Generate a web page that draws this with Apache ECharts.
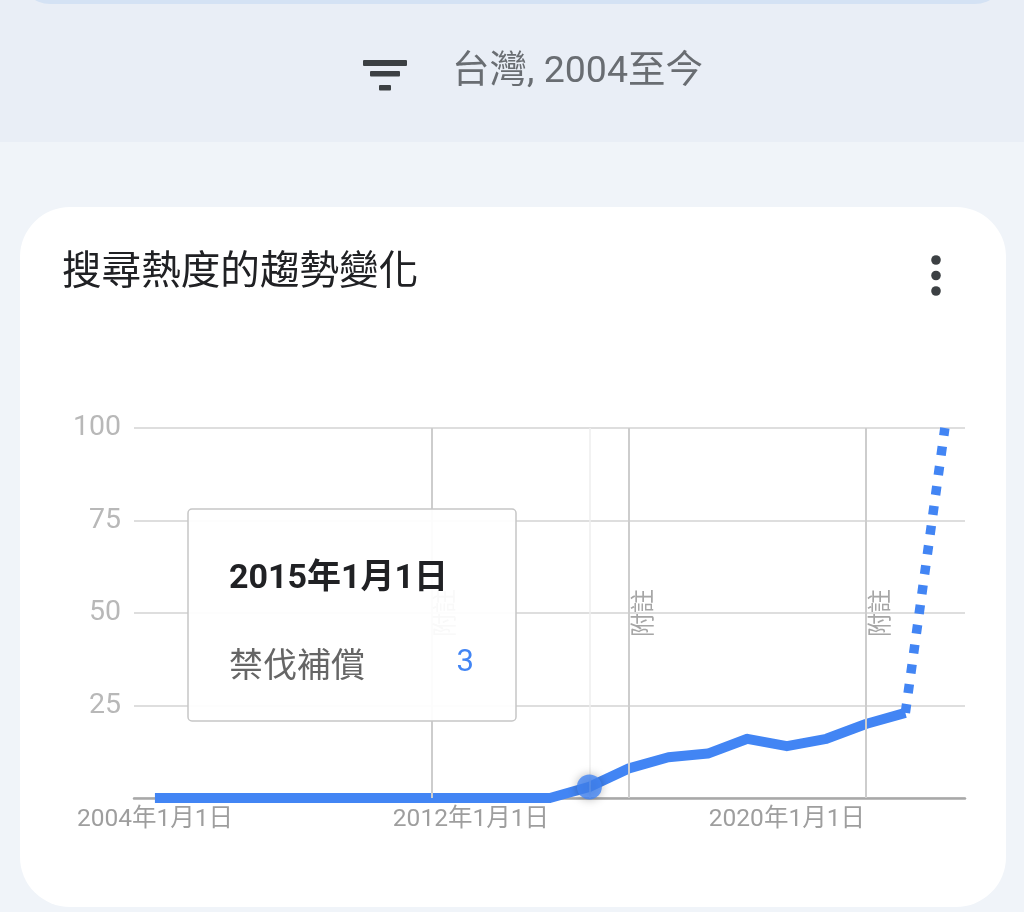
<!DOCTYPE html>
<html><head><meta charset="utf-8">
<script src="https://cdn.jsdelivr.net/npm/echarts@6/dist/echarts.min.js"></script>
<style>
html,body{margin:0;padding:0;width:1024px;height:912px;overflow:hidden;background:#f0f4f9;}
#top{position:absolute;left:0;top:0;width:1024px;height:142px;background:#e9eef6;overflow:hidden;}
#sliver{position:absolute;left:20px;top:-40px;width:985px;height:44px;background:#d4e2f4;border-radius:0 0 30px 30px;}
#card{position:absolute;left:20px;top:207px;width:986px;height:700px;background:#ffffff;border-radius:50px;}
#chart{position:absolute;left:0;top:0;width:1024px;height:912px;}
</style></head><body>
<div id="top"><div id="sliver"></div></div>
<div id="card"></div>
<div id="chart"></div>
<script>
// ---- data ----
const years = [2004,2005,2006,2007,2008,2009,2010,2011,2012,2013,2014,2015,2016,2017,2018,2019,2020,2021,2022,2023,2024];
const interest = [0,0,0,0,0,0,0,0,0,0,0,3,8,11,12,16,14,16,20,23,100];
const seriesName = '禁伐補償';
const yTicks = [25,50,75,100];
const xTickYears = [2004,2012,2020];
const noteYears = [2011,2016,2022];
const hoverYear = 2015;
const partialFromYear = 2023;
const headerText = '台灣, 2004至今';
const titleText = '搜尋熱度的趨勢變化';
const noteLabel = '附註';
const dateSuffix = '年1月1日';

const FONT = "Roboto, 'Noto Sans CJK TC', 'Noto Sans', sans-serif";
const BLUE = '#4285f4';

const pts = years.map((y,i)=>[y, interest[i]]);
const solidPts = pts.filter(p=>p[0] <= partialFromYear);
const partialPts = pts.filter(p=>p[0] >= partialFromYear);
const hoverIdx = years.indexOf(hoverYear);

const chart = echarts.init(document.getElementById('chart'), null, {renderer:'canvas'});
chart.setOption({
  backgroundColor: 'transparent',
  animation: false,
  grid: {left:134, right:59, top:428, bottom:114, containLabel:false},
  xAxis: {
    type:'value', min:2003.47, max:2024.51,
    splitLine:{show:false},
    axisTick:{show:false},
    axisLine:{show:true, onZero:false, lineStyle:{color:'#a8a8a8', width:2.5}},
    axisLabel:{
      customValues: xTickYears,
      formatter: v => v + dateSuffix,
      color:'#9e9e9e', fontSize:24.5, fontFamily:FONT, margin:10
    }
  },
  yAxis: {
    type:'value', min:0, max:100, interval:25,
    axisLine:{show:false}, axisTick:{show:false},
    splitLine:{show:true, lineStyle:{color:'#dedede', width:2}},
    axisLabel:{
      customValues: yTicks,
      color:'#b8b8b8', fontSize:28.5, fontFamily:FONT, margin:13
    }
  },
  series: [
    {
      type:'line', name:seriesName, data:solidPts, showSymbol:false, z:3,
      lineStyle:{color:BLUE, width:10, cap:'butt', join:'round'},
      markLine:{
        silent:true, symbol:['none','none'], animation:false,
        label:{show:false},
        lineStyle:{color:'#cdcdcd', width:2, type:'solid'},
        data: noteYears.map(y=>({xAxis:y})).concat([
          {xAxis:hoverYear, lineStyle:{color:'#eeeeee', width:1.5, type:'solid'}}
        ])
      }
    },
    {
      type:'line', name:seriesName + '(partial)', data:partialPts, showSymbol:false, z:3,
      lineStyle:{color:BLUE, width:9.5, type:[9,11], cap:'butt'}
    },
    {
      type:'scatter', name:'hover', data:[pts[hoverIdx]], zlevel:1, z:10,
      symbolSize:25,
      itemStyle:{color:BLUE, shadowBlur:10, shadowColor:'rgba(0,0,0,0.35)'}
    }
  ]
});

const graphics = [];
// header filter icon
graphics.push({type:'rect', z:10, shape:{x:363,y:60,width:44,height:6,r:1}, style:{fill:'#3c4043'}});
graphics.push({type:'rect', z:10, shape:{x:370,y:71,width:30,height:5.5,r:1}, style:{fill:'#3c4043'}});
graphics.push({type:'rect', z:10, shape:{x:379,y:85,width:12,height:5.5,r:1}, style:{fill:'#3c4043'}});
graphics.push({type:'text', z:10, x:452, y:73, style:{text:headerText, font:'37.5px '+FONT, fill:'#696d72', align:'left', verticalAlign:'middle'}});
// card title + menu
graphics.push({type:'text', z:10, x:62, y:274, style:{text:titleText, font:'39.6px '+FONT, fill:'#202124', align:'left', verticalAlign:'middle'}});
[260,275.5,291].forEach(cy=>graphics.push({type:'circle', z:10, shape:{cx:936, cy:cy, r:4.8}, style:{fill:'#3c4043'}}));
// note labels
noteYears.forEach(y=>{
  const p = chart.convertToPixel({gridIndex:0}, [y, 50]);
  graphics.push({type:'text', z:5, x:p[0]+16, y:p[1], rotation:Math.PI/2,
    style:{text:noteLabel, font:'24px '+FONT, fill:'#a6a6a6', align:'center', verticalAlign:'middle'}});
});
// tooltip card
graphics.push({type:'group', z:100, children:[
  {type:'rect', z:100, shape:{x:188,y:509,width:328,height:212,r:4},
   style:{fill:'rgba(255,255,255,0.93)', stroke:'#c6c6c6', lineWidth:1.5}},
  {type:'text', z:101, x:229, y:579, style:{text:years[hoverIdx] + dateSuffix, font:'bold 34px '+FONT, fill:'#202124', align:'left', verticalAlign:'middle'}},
  {type:'text', z:101, x:229, y:668, style:{text:seriesName, font:'34px '+FONT, fill:'#666666', align:'left', verticalAlign:'middle'}},
  {type:'text', z:101, x:474, y:663, style:{text:String(interest[hoverIdx]), font:'31px '+FONT, fill:BLUE, align:'right', verticalAlign:'middle'}}
]});
chart.setOption({graphic: graphics});
</script>
</body></html>
